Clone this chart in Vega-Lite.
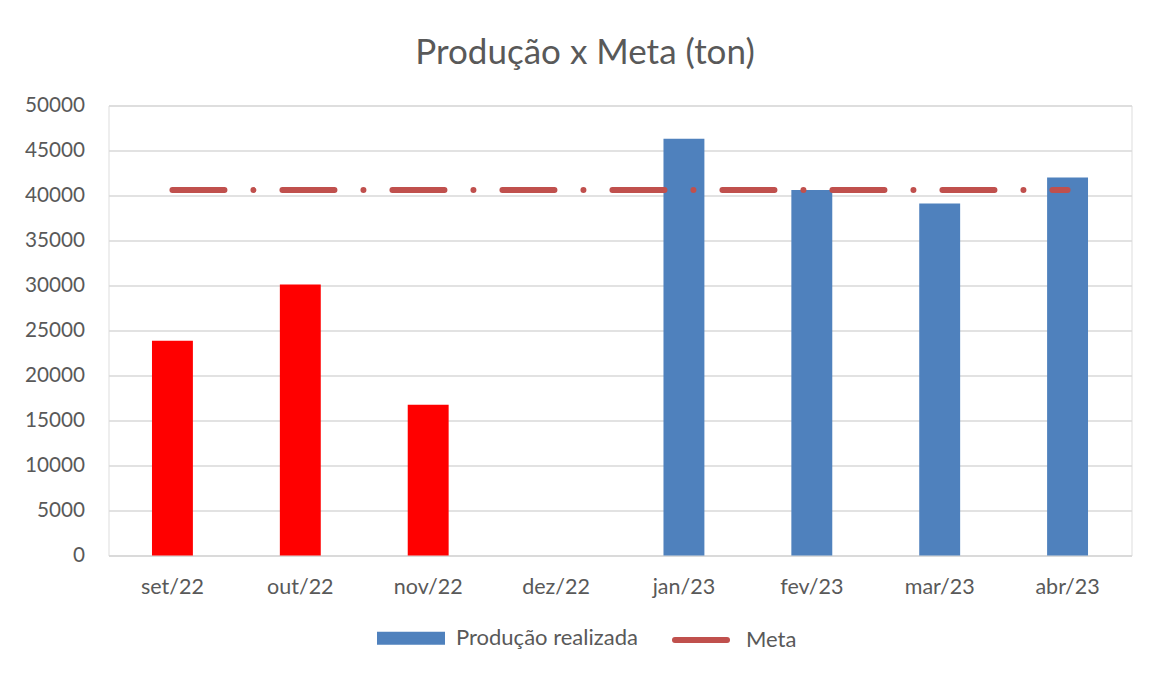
{
  "$schema": "https://vega.github.io/schema/vega-lite/v6.json",
  "width": 1023,
  "height": 450,
  "autosize": {"type": "none"},
  "padding": {"left": 108.5, "top": 105.5, "right": 21.5, "bottom": 117.5},
  "background": "#ffffff",
  "title": {
    "text": "Produção x Meta (ton)",
    "font": "Lato",
    "fontSize": 35,
    "fontWeight": "normal",
    "color": "#595959",
    "anchor": "middle",
    "baseline": "alphabetic",
    "dx": -35,
    "offset": -4
  },
  "data": {
    "values": [
      {"mes": "set/22", "producao": 23850, "meta": 40600, "serie": "Produção realizada", "ano": 2022},
      {"mes": "out/22", "producao": 30100, "meta": 40600, "serie": "Produção realizada", "ano": 2022},
      {"mes": "nov/22", "producao": 16750, "meta": 40600, "serie": "Produção realizada", "ano": 2022},
      {"mes": "dez/22", "producao": null, "meta": 40600, "serie": "Produção realizada", "ano": 2022},
      {"mes": "jan/23", "producao": 46300, "meta": 40600, "serie": "Produção realizada", "ano": 2023},
      {"mes": "fev/23", "producao": 40600, "meta": 40600, "serie": "Produção realizada", "ano": 2023},
      {"mes": "mar/23", "producao": 39100, "meta": 40600, "serie": "Produção realizada", "ano": 2023},
      {"mes": "abr/23", "producao": 42000, "meta": 40600, "serie": "Produção realizada", "ano": 2023}
    ]
  },
  "encoding": {
    "x": {
      "field": "mes",
      "type": "nominal",
      "sort": ["set/22", "out/22", "nov/22", "dez/22", "jan/23", "fev/23", "mar/23", "abr/23"],
      "title": null,
      "scale": {"domain": ["set/22", "out/22", "nov/22", "dez/22", "jan/23", "fev/23", "mar/23", "abr/23"], "paddingInner": 0.68, "paddingOuter": 0.34},
      "axis": {
        "labelAngle": 0,
        "labelFont": "Lato",
        "labelFontSize": 21.5,
        "labelColor": "#595959",
        "labelPadding": 21,
        "ticks": false,
        "domain": true,
        "domainColor": "#D9D9D9",
        "domainWidth": 1.5,
        "grid": false
      }
    }
  },
  "layer": [
    {
      "mark": {"type": "bar"},
      "encoding": {
        "y": {
          "field": "producao",
          "type": "quantitative",
          "title": null,
          "scale": {"domain": [0, 50000], "nice": false},
          "axis": {
            "values": [0, 5000, 10000, 15000, 20000, 25000, 30000, 35000, 40000, 45000, 50000],
            "format": "d",
            "labelFont": "Lato",
            "labelFontSize": 20.7,
            "labelColor": "#595959",
            "labelPadding": 24,
            "ticks": false,
            "domain": false,
            "grid": true,
            "gridColor": "#D9D9D9",
            "gridWidth": 1.5
          }
        },
        "color": {
          "condition": {"test": "datum.ano === 2022", "value": "#FF0000"},
          "field": "serie",
          "type": "nominal",
          "scale": {"domain": ["Produção realizada", "Meta"], "range": ["#4F81BD", "#C0504D"]},
          "legend": {
            "title": null,
            "orient": "none",
            "direction": "horizontal",
            "legendX": 265.5,
            "legendY": 495.5,
            "padding": 0,
            "columnPadding": 24,
            "symbolSize": 4624,
            "symbolStrokeWidth": 6,
            "symbolOffset": 0,
            "labelOffset": 8,
            "labelFont": "Lato",
            "labelFontSize": 22,
            "labelColor": "#595959",
            "labelLimit": 400,
            "encode": {
              "symbols": {
                "update": {
                  "shape": {"signal": "datum.value === 'Meta' ? 'M-0.765,0H0.765' : 'M-0.912,-0.103H0.912V0.103H-0.912Z'"},
                  "size": {"value": 4624},
                  "strokeWidth": {"value": 6},
                  "fill": {"signal": "datum.value === 'Meta' ? 'transparent' : '#4F81BD'"},
                  "stroke": {"signal": "datum.value === 'Meta' ? '#C0504D' : '#4F81BD'"},
                  "strokeCap": {"signal": "datum.value === 'Meta' ? 'round' : 'butt'"},
                  "strokeDash": {"value": [1, 0]},
                  "opacity": {"value": 1}
                }
              }
            }
          }
        }
      }
    },
    {
      "mark": {"type": "line", "strokeWidth": 6, "strokeCap": "round", "strokeDash": [52, 29, 0, 29]},
      "encoding": {
        "y": {"field": "meta", "type": "quantitative"},
        "color": {"datum": "Meta"}
      }
    }
  ]
}
